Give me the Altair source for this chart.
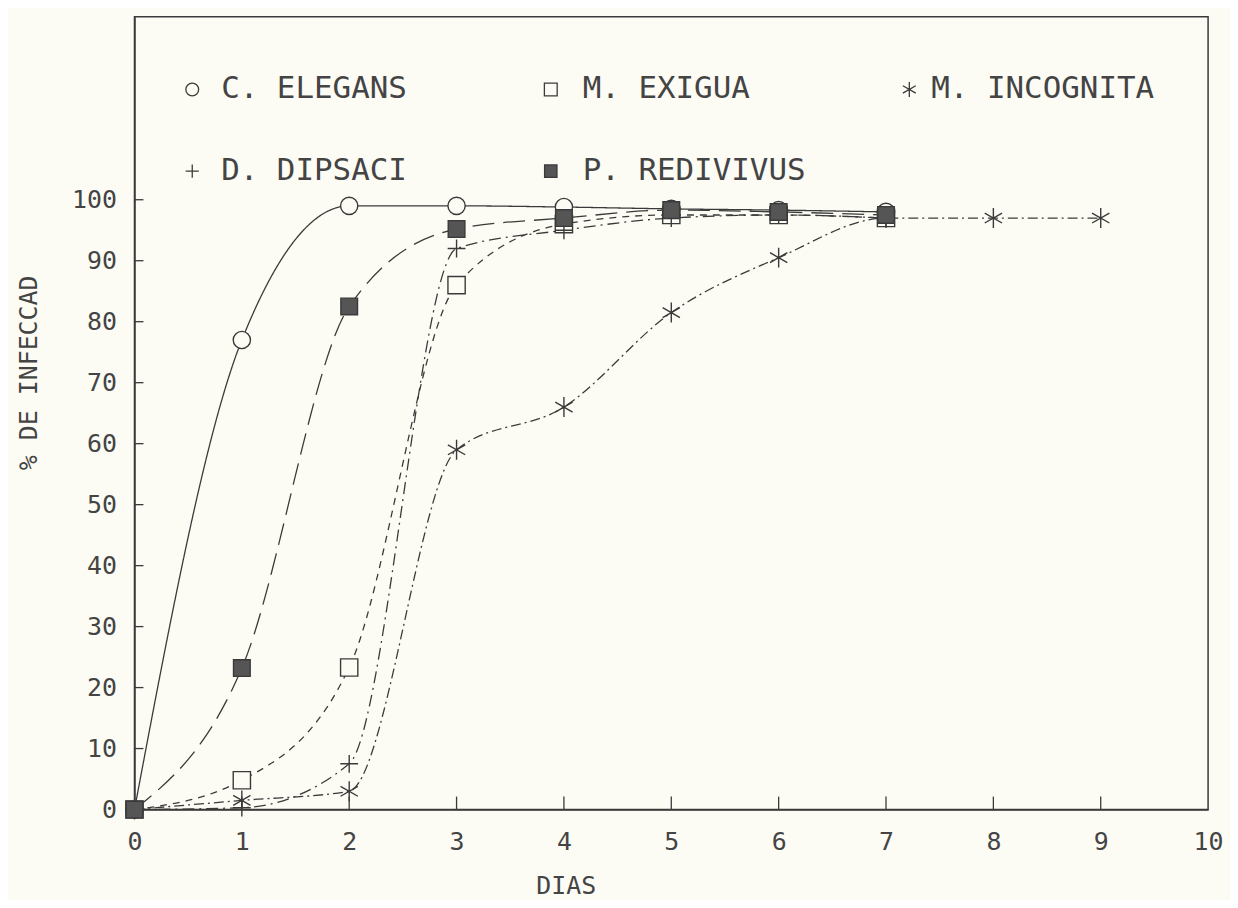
import altair as alt
import pandas as pd

# ---------------- data ----------------
dias_elegans = [0, 1, 2, 3, 4, 5, 6, 7]
c_elegans = [0, 77, 99, 99, 98.8, 98.5, 98.3, 98]

dias_exigua = [0, 1, 2, 3, 4, 5, 6, 7]
m_exigua = [0, 4.8, 23.3, 86, 96, 97.5, 97.5, 97]

dias_dipsaci = [0, 1, 2, 3, 4, 5, 6, 7]
d_dipsaci = [0, 0.3, 7.5, 92, 95, 97, 97.5, 97]

dias_incognita = [0, 1, 2, 3, 4, 5, 6, 7, 8, 9]
m_incognita = [0, 1.5, 3, 59, 66, 81.5, 90.5, 97, 97, 97]

dias_redivivus = [0, 1, 2, 3, 4, 5, 6, 7]
p_redivivus = [0, 23.2, 82.5, 95.2, 97, 98.3, 98, 97.5]

names = ["C. ELEGANS", "M. EXIGUA", "M. INCOGNITA", "D. DIPSACI", "P. REDIVIVUS"]
x_ticks = [1, 2, 3, 4, 5, 6, 7, 8, 9]
y_ticks = [10, 20, 30, 40, 50, 60, 70, 80, 90, 100]
x_labels = list(range(0, 11))
y_labels = list(range(0, 101, 10))

# ---------------- styles ----------------
W, H = 1078, 796
BG = "#fcfcf5"
INK = "#3a3a3a"
FONT = "DejaVu Sans Mono"

PLUS = "M-1,0H1M0,-1V1"
STAR = "M0,-1V1M-0.87,-0.5L0.87,0.5M-0.87,0.5L0.87,-0.5"

series = [
    # name, xs, ys, dash, shape, fill, size
    ("C. ELEGANS", dias_elegans, c_elegans, [1, 0], "circle", BG, 300),
    ("M. EXIGUA", dias_exigua, m_exigua, [7, 6], "square", BG, 300),
    ("D. DIPSACI", dias_dipsaci, d_dipsaci, [12, 5, 2, 5], PLUS, None, 320),
    ("M. INCOGNITA", dias_incognita, m_incognita, [10, 4, 2, 4], STAR, None, 400),
    ("P. REDIVIVUS", dias_redivivus, p_redivivus, [22, 9], "square", "#555555", 280),
]

xs = alt.Scale(domain=[0, 10], nice=False, zero=False)
ys = alt.Scale(domain=[0, 130], nice=False, zero=False)

x_enc = alt.X(
    "dia:Q", scale=xs,
    axis=alt.Axis(
        values=x_labels, format="d", title="DIAS", grid=False, ticks=False,
        labelFlush=False, labelOverlap=False,
        domainColor=INK, domainWidth=1.5, labelFont=FONT, labelFontSize=25,
        labelColor="#444", labelPadding=20, titleFont=FONT, titleFontSize=25,
        titleFontWeight="normal", titleColor="#444", titleX=433, titleY=76,
        titleBaseline="middle", titleAlign="center",
    ),
)
y_enc = alt.Y(
    "pct:Q", scale=ys,
    axis=alt.Axis(
        values=y_labels, format="d", title="% DE INFECCAD", grid=False, ticks=False,
        labelFlush=False, labelOverlap=False,
        domainColor=INK, domainWidth=1.5, labelFont=FONT, labelFontSize=25,
        labelColor="#444", labelPadding=18, titleFont=FONT, titleFontSize=25,
        titleFontWeight="normal", titleColor="#444", titleX=-106, titleY=357,
        titleAngle=270, titleBaseline="middle", titleAlign="center",
    ),
)

layers = []
for name, dx, dy, dash, shape, fill, size in series:
    df = pd.DataFrame({"dia": dx, "pct": dy, "serie": name})
    layers.append(
        alt.Chart(df).mark_line(
            color=INK, strokeWidth=1.3, strokeDash=dash, interpolate="monotone", clip=True
        ).encode(x=x_enc, y=y_enc)
    )

for name, dx, dy, dash, shape, fill, size in series:
    df = pd.DataFrame({"dia": dx, "pct": dy, "serie": name})
    kw = dict(shape=shape, size=size, stroke=INK, strokeWidth=1.4, opacity=1)
    if fill is not None:
        kw.update(filled=True, fill=fill)
    else:
        kw.update(filled=False)
    layers.append(alt.Chart(df).mark_point(**kw).encode(x=x_enc, y=y_enc))

# inward ticks
xt = pd.DataFrame({"dia": x_ticks})
layers.append(
    alt.Chart(xt).mark_rule(color=INK, strokeWidth=1.3).encode(
        x=alt.X("dia:Q", scale=xs), y=alt.value(H), y2=alt.value(H - 13)
    )
)
yt = pd.DataFrame({"pct": y_ticks})
layers.append(
    alt.Chart(yt).mark_rule(color=INK, strokeWidth=1.3).encode(
        y=alt.Y("pct:Q", scale=ys), x=alt.value(0), x2=alt.value(9)
    )
)

# legend drawn inside the frame
leg_sym_x = [58, 418, 778, 58, 418]
leg_txt_x = [87, 450, 800, 87, 450]
leg_y = [73, 73, 73, 155, 155]
sym_by_name = {s[0]: s for s in series}
for i, name in enumerate(names):
    _, _, _, _, shape, fill, size = sym_by_name[name]
    ld = pd.DataFrame({"label": [name]})
    kw = dict(shape=shape, size=size * 0.55, stroke=INK, strokeWidth=1.3, opacity=1)
    if fill is not None:
        kw.update(filled=True, fill=fill)
    else:
        kw.update(filled=False)
    layers.append(
        alt.Chart(ld).mark_point(**kw).encode(x=alt.value(leg_sym_x[i]), y=alt.value(leg_y[i]))
    )
    layers.append(
        alt.Chart(ld).mark_text(
            font=FONT, fontSize=31, color="#444", align="left", baseline="middle"
        ).encode(x=alt.value(leg_txt_x[i]), y=alt.value(leg_y[i]), text="label:N")
    )

chart = (
    alt.layer(*layers)
    .properties(
        width=W, height=H, background=BG,
        padding={"left": 127, "top": 7, "right": 22, "bottom": 89},
        autosize=alt.AutoSizeParams(type="none"),
    )
    .configure_view(stroke=INK, strokeWidth=1.5)
)

chart.save("out.html", embed_options={"renderer": "svg", "actions": False})
